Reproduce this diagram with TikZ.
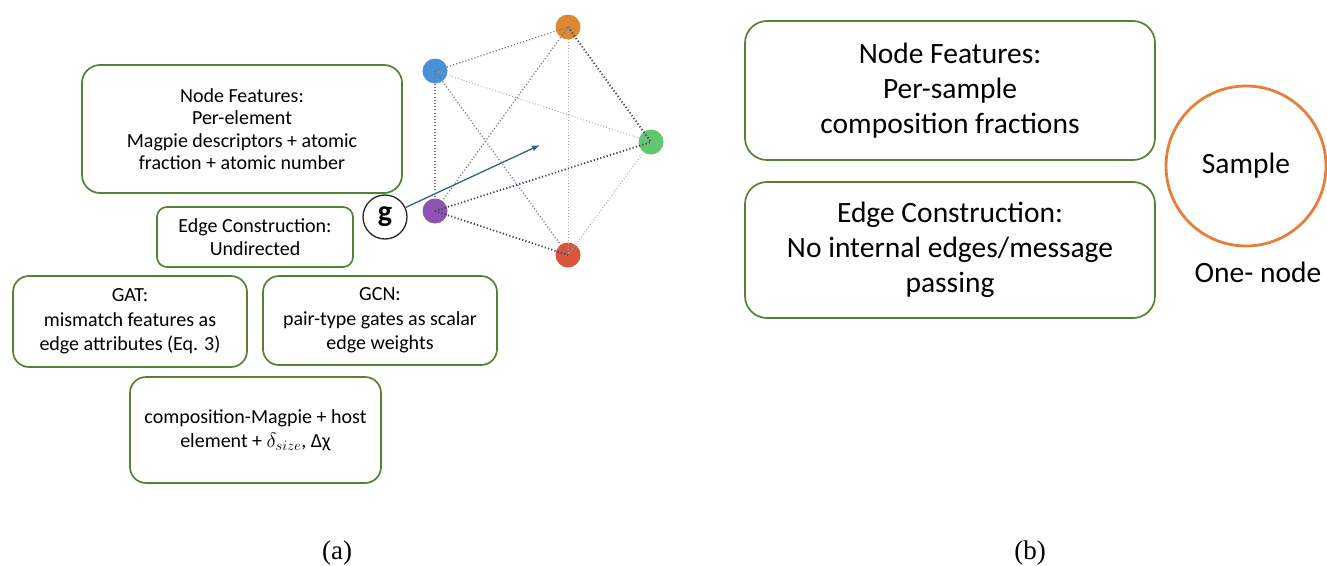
\documentclass[tikz,border=0pt]{standalone}
\usepackage{fontspec}
\setmainfont{Carlito}
\newfontfamily\capfont{Liberation Serif}
\usepackage{tikz}
\usetikzlibrary{arrows.meta,positioning}
\definecolor{boxgreen}{RGB}{84,130,53}
\definecolor{arrblue}{RGB}{52,96,140}
\definecolor{elblue}{RGB}{74,144,217}
\definecolor{elorange}{RGB}{222,135,50}
\definecolor{elgreen}{RGB}{95,200,108}
\definecolor{elpurple}{RGB}{142,82,180}
\definecolor{elred}{RGB}{217,85,60}
\definecolor{samporange}{RGB}{230,126,60}
\definecolor{edgegray}{RGB}{60,66,84}

\begin{document}
\begin{tikzpicture}[
  x=1pt,y=-1pt,
  featbox/.style={draw=boxgreen,line width=1.7pt,rounded corners=16pt,
                  align=center,inner sep=0pt},
  smallfont/.style={font=\fontsize{20}{22.5}\selectfont},
  midfont/.style={font=\fontsize{20}{24.5}\selectfont},
  bigfont/.style={font=\fontsize{29.5}{35}\selectfont},
  elem/.style={circle,inner sep=0pt,minimum size=25pt},
  strong/.style={draw=edgegray,line width=1.8pt,dash pattern=on 1.2pt off 2.2pt},
  medium/.style={draw=edgegray!75,line width=1.3pt,dash pattern=on 1pt off 2.2pt},
  faint/.style={draw=edgegray!45,line width=0.9pt,dash pattern=on 1pt off 2pt},
  arr/.style={-{Latex[length=8pt,width=6pt]},line width=1.3pt,color=arrblue},
  caption/.style={font=\capfont\fontsize{27}{30}\selectfont}
]
\useasboundingbox (0,0) rectangle (1327,565);

% (a) graph of elements
\node[elem,fill=elblue]   (blue)   at (435,71)  {};
\node[elem,fill=elorange] (orange) at (568,27)  {};
\node[elem,fill=elgreen]  (green)  at (651,142) {};
\node[elem,fill=elpurple] (purple) at (435,211) {};
\node[elem,fill=elred]    (red)    at (568,255) {};

\draw[medium] (blue.center)   -- (orange.center);
\draw[faint]  (blue.center)   -- (green.center);
\draw[medium] (blue.center)   -- (purple.center);
\draw[medium] (blue.center)   -- (red.center);
\draw[strong] (orange.center) -- (green.center);
\draw[faint]  (orange.center) -- (red.center);
\draw[medium] (orange.center) -- (purple.center);
\draw[strong] (purple.center) -- (green.center);
\draw[strong] (purple.center) -- (red.center);
\draw[faint]  (green.center)  -- (red.center);

\node[circle,draw=black!85,line width=1.3pt,minimum size=44pt,inner sep=0pt,
      font=\fontsize{30}{30}\selectfont\bfseries] (g) at (385,217) {g};
\coordinate (gtip) at (540,145);
\draw[arr] (g) -- (gtip);

% (a) boxes
\node[featbox,smallfont,minimum width=320pt,minimum height=128pt,rounded corners=18pt] (nodefeat) at (242,129)
  {Node Features:\\Per-element\\Magpie descriptors + atomic\\fraction + atomic number};
\node[featbox,smallfont,minimum width=196pt,minimum height=60pt,rounded corners=10pt] (edgecons) at (255,237)
  {Edge Construction:\\Undirected};
\node[featbox,midfont,minimum width=234pt,minimum height=91pt] (gat) at (130,321.5)
  {GAT:\\mismatch features as\\edge attributes (Eq. 3)};
\node[featbox,midfont,minimum width=234pt,minimum height=89pt] (gcn) at (380,320.5)
  {GCN:\\pair-type gates as scalar\\edge weights};
\node[featbox,midfont,minimum width=251pt,minimum height=106pt] (comp) at (255.5,430)
  {composition-Magpie + host\\element + $\delta_{size}$, Δχ};

% (b) boxes
\node[featbox,bigfont,minimum width=410pt,minimum height=139pt,rounded corners=22pt] (nodefeatb) at (950,90.5)
  {Node Features:\\Per-sample\\composition fractions};
\node[featbox,bigfont,minimum width=410pt,minimum height=136pt,rounded corners=22pt] (edgeconsb) at (950,250)
  {Edge Construction:\\No internal edges/message\\passing};
\node[circle,draw=samporange,line width=2.8pt,minimum size=160pt,inner sep=0pt,
      font=\fontsize{29.5}{32}\selectfont] (sample) at (1246,166) {Sample};
\node[font=\fontsize{29.5}{32}\selectfont,below=11pt of sample,xshift=12pt] (onenode) {One- node};

% captions
\node[caption] (capa) at (337,553) {(a)};
\node[caption] (capb) at (1030,553) {(b)};
\end{tikzpicture}
\end{document}
